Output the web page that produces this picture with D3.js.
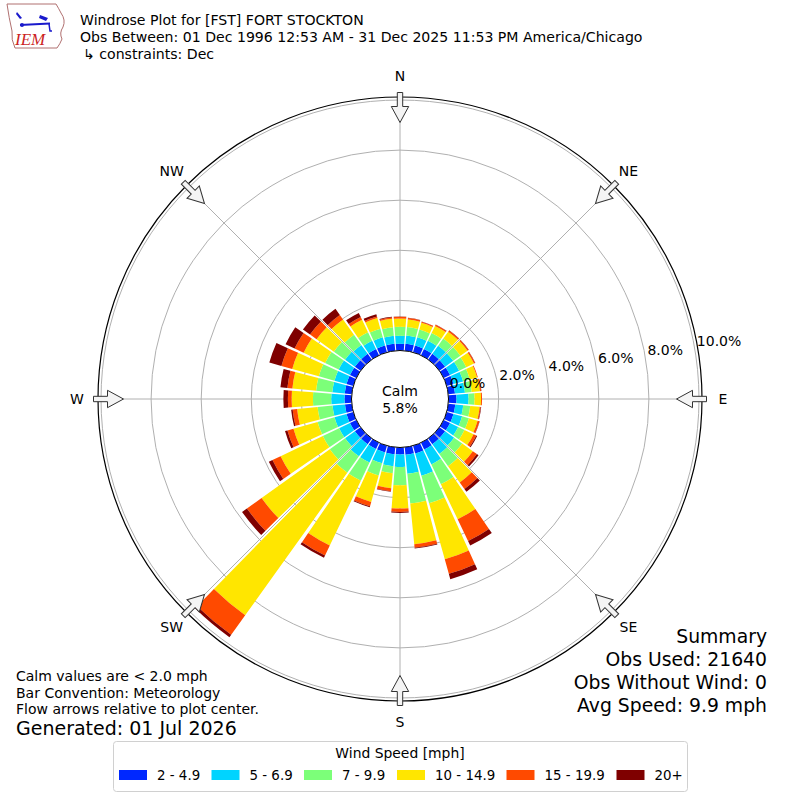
<!DOCTYPE html>
<html>
<head>
<meta charset="utf-8">
<script src="https://cdn.jsdelivr.net/npm/d3@7"></script>
<style>
  html, body { margin: 0; padding: 0; background: #fff; }
  svg { display: block; font-family: "DejaVu Sans", sans-serif; }
</style>
</head>
<body>
<svg id="chart" width="800" height="800"></svg>
<script>
// ---------------- data ----------------
const directions = [0,10,20,30,40,50,60,70,80,90,100,110,120,130,140,150,160,170,
                    180,190,200,210,220,230,240,250,260,270,280,290,300,310,320,330,340,350];
const speedBins = ["2 - 4.9", "5 - 6.9", "7 - 9.9", "10 - 14.9", "15 - 19.9", "20+"];
const binColors = ["#0028ff", "#00d4ff", "#7cff79", "#ffe600", "#ff4a00", "#7f0000"];
// percent of observations per direction (meteorological, from)
const pct_2_4_9 =   [0.27,0.28,0.28,0.28,0.28,0.28,0.28,0.28,0.27,0.32,0.28,0.28,0.28,0.28,0.28,0.30,0.32,0.30,
                     0.28,0.28,0.28,0.28,0.28,0.28,0.28,0.28,0.27,0.28,0.28,0.28,0.28,0.28,0.28,0.28,0.28,0.28];
const pct_5_6_9 =   [0.32,0.33,0.34,0.36,0.40,0.40,0.40,0.40,0.40,0.48,0.32,0.36,0.36,0.44,0.48,0.66,0.92,0.76,
                     0.50,0.48,0.45,0.60,0.60,0.48,0.48,0.50,0.50,0.53,0.50,0.50,0.50,0.48,0.44,0.36,0.34,0.32];
const pct_7_9_9 =   [0.36,0.34,0.32,0.34,0.35,0.35,0.32,0.28,0.27,0.24,0.28,0.28,0.28,0.40,0.60,0.88,1.14,1.20,
                     0.73,0.28,0.50,0.80,0.80,0.75,0.72,0.70,0.60,0.73,0.65,0.65,0.60,0.55,0.50,0.38,0.36,0.34];
const pct_10_14_9 = [0.33,0.30,0.28,0.32,0.34,0.35,0.34,0.30,0.33,0.26,0.38,0.36,0.40,0.52,0.80,1.55,2.33,1.63,
                     0.93,0.60,1.10,2.87,7.00,3.35,1.87,1.00,0.82,0.85,0.95,1.10,0.95,0.85,0.75,0.55,0.44,0.34];
const pct_15_19_9 = [0.07,0.06,0.05,0.05,0.06,0.05,0.05,0.03,0.05,0.04,0.04,0.08,0.12,0.20,0.32,0.96,0.60,0.14,
                     0.13,0.12,0.18,0.44,0.96,0.72,0.36,0.25,0.18,0.15,0.20,0.45,0.40,0.32,0.22,0.12,0.06,0.05];
const pct_20_plus = [0.01,0.01,0.01,0.01,0.01,0.01,0.01,0.00,0.01,0.00,0.02,0.01,0.04,0.08,0.14,0.20,0.22,0.03,
                     0.04,0.02,0.04,0.10,0.12,0.24,0.16,0.10,0.06,0.18,0.28,0.50,0.40,0.35,0.30,0.18,0.10,0.03];
const binSeries = [pct_2_4_9, pct_5_6_9, pct_7_9_9, pct_10_14_9, pct_15_19_9, pct_20_plus];
const radialTicks = [0, 2, 4, 6, 8, 10];
const compassNames = ["N","NE","E","SE","S","SW","W","NW"];
const compassBearings = [0,45,90,135,180,225,270,315];
const calmPct = 5.8;
const titleLines = ["Windrose Plot for [FST] FORT STOCKTON",
                    "Obs Between: 01 Dec 1996 12:53 AM - 31 Dec 2025 11:53 PM America/Chicago",
                    "\u21B3 constraints: Dec"];
const noteLines = ["Calm values are < 2.0 mph", "Bar Convention: Meteorology",
                   "Flow arrows relative to plot center."];
const generatedText = "Generated: 01 Jul 2026";
const summaryLines = ["Summary", "Obs Used: 21640", "Obs Without Wind: 0", "Avg Speed: 9.9 mph"];
const legendTitle = "Wind Speed [mph]";

// ---------------- drawing ----------------
const svg = d3.select("#chart");
const cx = 400, cy = 399;
const outerR = 302;
const r = d3.scaleLinear().domain([0, 10]).range([48.5, 299]);
const toRad = d => d * Math.PI / 180;

const g = svg.append("g").attr("transform", `translate(${cx},${cy})`);

// grid circles
g.selectAll("circle.grid").data(radialTicks.filter(t => t > 0)).enter()
  .append("circle").attr("class","grid")
  .attr("r", d => r(d)).attr("fill","none").attr("stroke","#b0b0b0").attr("stroke-width",1);
// radial lines
g.selectAll("line.spoke").data(compassBearings).enter()
  .append("line")
  .attr("x1", d => r(0) * Math.sin(toRad(d))).attr("y1", d => -r(0) * Math.cos(toRad(d)))
  .attr("x2", d => outerR * Math.sin(toRad(d))).attr("y2", d => -outerR * Math.cos(toRad(d)))
  .attr("stroke","#b0b0b0").attr("stroke-width",1);

// stacked bars
const table = directions.map((dir, i) => {
  const row = { dir };
  speedBins.forEach((b, k) => row[b] = binSeries[k][i]);
  return row;
});
const stacked = d3.stack().keys(speedBins)(table);
const halfWidth = 4.4;
const arc = d3.arc();
stacked.forEach((layer, k) => {
  g.append("g").selectAll("path").data(layer).enter().append("path")
    .attr("d", d => arc({
      innerRadius: r(d[0]), outerRadius: r(d[1]),
      startAngle: toRad(d.data.dir - halfWidth), endAngle: toRad(d.data.dir + halfWidth)
    }))
    .attr("fill", binColors[k]);
});

// calm circle
g.append("circle").attr("r", r(0)).attr("fill","#fff").attr("stroke","#000").attr("stroke-width",1);
g.append("text").attr("x",0).attr("y",-8).attr("text-anchor","middle").attr("dominant-baseline","central")
  .attr("font-size","14px").text("Calm");
g.append("text").attr("x",0).attr("y",9).attr("text-anchor","middle").attr("dominant-baseline","central")
  .attr("font-size","14px").text(calmPct.toFixed(1) + "%");

// outer circle
g.append("circle").attr("r", outerR).attr("fill","none").attr("stroke","#000").attr("stroke-width",1.2);

// compass arrows (pointing to center)
const arrowPath = "M-2.7,-306.5 L2.7,-306.5 L2.7,-292.5 L8.7,-292.5 L0,-276.5 L-8.7,-292.5 L-2.7,-292.5 Z";
g.selectAll("path.arrow").data(compassBearings).enter().append("path")
  .attr("d", arrowPath).attr("transform", d => `rotate(${d})`)
  .attr("fill","#f4f4f4").attr("stroke","#333").attr("stroke-width",1);

// compass labels
const labelR = 323;
g.selectAll("text.comp").data(compassBearings).enter().append("text")
  .attr("x", d => labelR * Math.sin(toRad(d))).attr("y", d => -labelR * Math.cos(toRad(d)))
  .attr("text-anchor","middle").attr("dominant-baseline","central").attr("font-size","14px")
  .text((d, i) => compassNames[i]);

// radial tick labels
const labAng = toRad(80.4);
g.selectAll("text.rtick").data(radialTicks).enter().append("text")
  .attr("x", d => r(d) * Math.sin(labAng) + 2).attr("y", d => -r(d) * Math.cos(labAng) - 8)
  .attr("text-anchor","start").attr("dominant-baseline","central").attr("font-size","14px")
  .text(d => d.toFixed(1) + "%");

// ---------------- title & logo ----------------
const logo = svg.append("g");
logo.append("path")
  .attr("d","M7,4 L56,4 Q59,9 61,13 Q66,20 63,27 Q59,33 62,39 Q60,44 57,48 L15,48 Q11,40 12,31 Q9,18 7,4 Z")
  .attr("fill","none").attr("stroke","#b07070").attr("stroke-width",1);
logo.append("line").attr("x1",20).attr("y1",25).attr("x2",50).attr("y2",23.5)
  .attr("stroke","#1a1acc").attr("stroke-width",2);
logo.append("path").attr("d","M40,15 L48,18 L46,21 L39,18 Z").attr("fill","#1a1acc");
logo.append("path").attr("d","M17,12 L22,18 L20,19 L16,14 Z").attr("fill","#1a1acc");
logo.append("circle").attr("cx",22).attr("cy",25).attr("r",2).attr("fill","#1a1acc");
logo.append("path").attr("d","M49,24 L50,31 L52,31").attr("fill","none").attr("stroke","#1a1acc").attr("stroke-width",1.5);
logo.append("text").attr("x",15).attr("y",45).attr("font-family","'Liberation Serif', serif")
  .attr("font-style","italic").attr("font-size","17px").attr("fill","#cc1f1f").text("IEM");

svg.selectAll("text.title").data(titleLines).enter().append("text")
  .attr("x", (d, i) => i === 2 ? 83 : 80).attr("y", (d, i) => [20, 37, 54][i])
  .attr("dominant-baseline","central").attr("font-size","14.1px").attr("fill","#000").text(d => d);

// ---------------- notes ----------------
svg.selectAll("text.note").data(noteLines).enter().append("text")
  .attr("x",16).attr("y",(d, i) => [676, 692.5, 709][i])
  .attr("dominant-baseline","central").attr("font-size","14px").text(d => d);
svg.append("text").attr("x",16).attr("y",728).attr("dominant-baseline","central")
  .attr("font-size","19px").text(generatedText);

svg.selectAll("text.summary").data(summaryLines).enter().append("text")
  .attr("x",767).attr("y",(d, i) => [636, 659, 682, 705][i])
  .attr("text-anchor","end").attr("dominant-baseline","central").attr("font-size","18.8px").text(d => d);

// ---------------- legend ----------------
const leg = svg.append("g");
leg.append("rect").attr("x",113.5).attr("y",741.5).attr("width",574).attr("height",50).attr("rx",3)
  .attr("fill","#fff").attr("stroke","#d0d0d0").attr("stroke-width",1);
leg.append("text").attr("x",400).attr("y",753).attr("text-anchor","middle").attr("dominant-baseline","central")
  .attr("font-size","13.9px").text(legendTitle);
const legendPatchX = [119, 211.5, 304, 397, 506.5, 616.5];
speedBins.forEach((b, k) => {
  leg.append("rect").attr("x", legendPatchX[k]).attr("y", 770).attr("width", 28).attr("height", 10).attr("fill", binColors[k]);
  leg.append("text").attr("x", legendPatchX[k] + 38).attr("y", 775).attr("dominant-baseline","central")
    .attr("font-size","13.4px").text(b);
});
</script>
</body>
</html>
